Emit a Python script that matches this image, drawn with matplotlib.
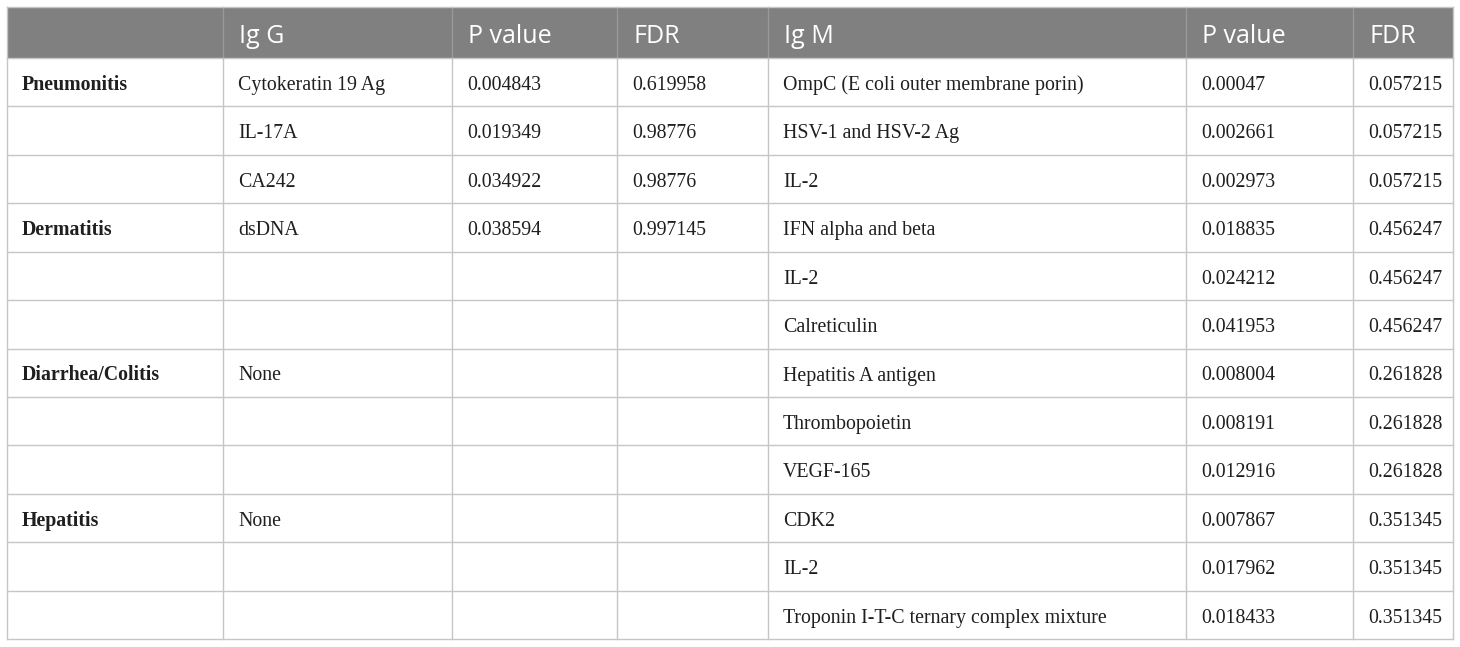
import matplotlib.pyplot as plt
from matplotlib.patches import Rectangle

# table content
headers = ["", "Ig G", "P value", "FDR", "Ig M", "P value", "FDR"]
groups = ["Pneumonitis", "", "", "Dermatitis", "", "", "Diarrhea/Colitis", "", "",
          "Hepatitis", "", ""]
igg = ["Cytokeratin 19 Ag", "IL-17A", "CA242", "dsDNA", "", "", "None", "", "",
       "None", "", ""]
igg_p = ["0.004843", "0.019349", "0.034922", "0.038594", "", "", "", "", "", "", "", ""]
igg_fdr = ["0.619958", "0.98776", "0.98776", "0.997145", "", "", "", "", "", "", "", ""]
igm = ["OmpC (E coli outer membrane porin)", "HSV-1 and HSV-2 Ag", "IL-2",
       "IFN alpha and beta", "IL-2", "Calreticulin", "Hepatitis A antigen",
       "Thrombopoietin", "VEGF-165", "CDK2", "IL-2",
       "Troponin I-T-C ternary complex mixture"]
igm_p = ["0.00047", "0.002661", "0.002973", "0.018835", "0.024212", "0.041953",
         "0.008004", "0.008191", "0.012916", "0.007867", "0.017962", "0.018433"]
igm_fdr = ["0.057215", "0.057215", "0.057215", "0.456247", "0.456247", "0.456247",
           "0.261828", "0.261828", "0.261828", "0.351345", "0.351345", "0.351345"]

columns = [groups, igg, igg_p, igg_fdr, igm, igm_p, igm_fdr]

# layout in pixels
col_x = [7, 223, 452, 617, 768, 1186, 1353, 1453]
top, header_bottom, bottom = 7, 58, 639
n_rows = len(groups)
row_h = (bottom - header_bottom) / n_rows
pad = 15

grid_color = '#c6c6c6'
header_color = '#808080'

fig = plt.figure(figsize=(14.6, 6.47), dpi=100, facecolor='white')
ax = fig.add_axes([0, 0, 1, 1])
ax.set_xlim(0, 1460)
ax.set_ylim(647, 0)
ax.axis('off')

# header band
ax.add_patch(Rectangle((col_x[0], top), col_x[-1] - col_x[0], header_bottom - top,
                       facecolor=header_color, edgecolor='none', zorder=1))

for i, h in enumerate(headers):
    ax.text(col_x[i] + pad + 1, top + 36, h, color='white',
            fontsize=18, family='Open Sans', ha='left', va='baseline', zorder=3)

# body
for r in range(n_rows):
    yb = header_bottom + r * row_h + 32
    for c, col in enumerate(columns):
        txt = col[r]
        if not txt:
            continue
        ax.text(col_x[c] + pad, yb, txt, fontsize=14.3, family='Liberation Serif',
                fontweight='bold' if c == 0 else 'normal', color='#1f1f1f',
                ha='left', va='baseline', zorder=3)

# grid lines
for x in col_x:
    ax.plot([x, x], [header_bottom, bottom], color=grid_color, lw=1.0, zorder=2)
for x in (col_x[0], col_x[-1]):
    ax.plot([x, x], [top, header_bottom], color=grid_color, lw=1.0, zorder=2)
# header separators, a touch lighter than the band
for x in col_x[1:-1]:
    ax.plot([x, x], [top, header_bottom], color='#999999', lw=1.0, zorder=2)

ax.plot([col_x[0], col_x[-1]], [top, top], color=grid_color, lw=1.0, zorder=2)
for r in range(n_rows + 1):
    y = header_bottom + r * row_h
    ax.plot([col_x[0], col_x[-1]], [y, y], color=grid_color, lw=1.0, zorder=2)

fig.savefig('out.png', dpi=100, facecolor='white')
